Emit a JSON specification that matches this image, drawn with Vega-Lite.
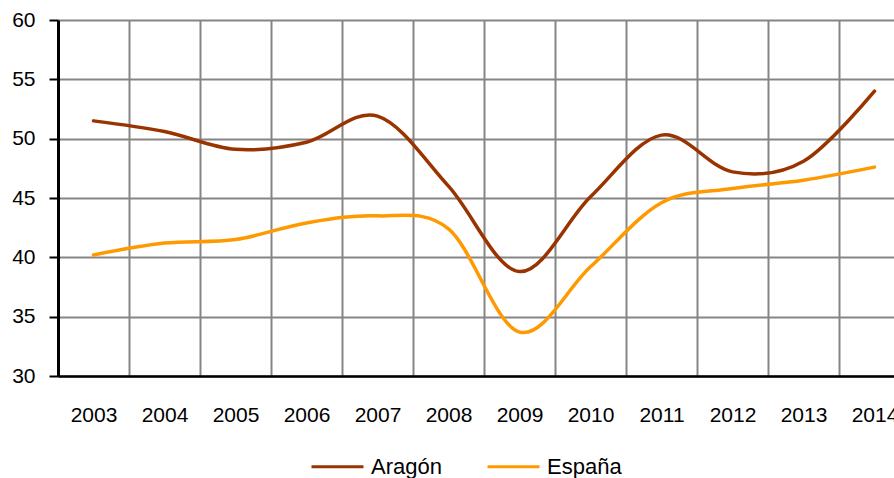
{
  "$schema": "https://vega.github.io/schema/vega-lite/v6.json",
  "autosize": {"type": "none"},
  "padding": {"left": 58, "top": 20, "right": 0, "bottom": 102},
  "width": 836,
  "height": 356,
  "background": "white",
  "config": {
    "view": {"stroke": null},
    "font": "Liberation Sans",
    "axis": {"labelFont": "Liberation Sans", "labelColor": "#000000", "labelFontSize": 21, "titleFontSize": 0}
  },
  "data": {
    "values": [
      {"year": 2003, "series": "Aragón", "value": 51.5},
      {"year": 2004, "series": "Aragón", "value": 50.6},
      {"year": 2005, "series": "Aragón", "value": 49.1},
      {"year": 2006, "series": "Aragón", "value": 49.7},
      {"year": 2007, "series": "Aragón", "value": 51.9},
      {"year": 2008, "series": "Aragón", "value": 46.0},
      {"year": 2009, "series": "Aragón", "value": 38.8},
      {"year": 2010, "series": "Aragón", "value": 45.1},
      {"year": 2011, "series": "Aragón", "value": 50.3},
      {"year": 2012, "series": "Aragón", "value": 47.2},
      {"year": 2013, "series": "Aragón", "value": 48.1},
      {"year": 2014, "series": "Aragón", "value": 54.0},
      {"year": 2003, "series": "España", "value": 40.2},
      {"year": 2004, "series": "España", "value": 41.2},
      {"year": 2005, "series": "España", "value": 41.5},
      {"year": 2006, "series": "España", "value": 42.9},
      {"year": 2007, "series": "España", "value": 43.5},
      {"year": 2008, "series": "España", "value": 42.4},
      {"year": 2009, "series": "España", "value": 33.7},
      {"year": 2010, "series": "España", "value": 39.2},
      {"year": 2011, "series": "España", "value": 44.6},
      {"year": 2012, "series": "España", "value": 45.8},
      {"year": 2013, "series": "España", "value": 46.5},
      {"year": 2014, "series": "España", "value": 47.6}
    ]
  },
  "mark": {"type": "line", "interpolate": "cardinal", "strokeWidth": 3.5, "strokeCap": "round"},
  "encoding": {
    "x": {
      "field": "year",
      "type": "quantitative",
      "scale": {"domain": [2002.5, 2014.5], "range": [0, 852], "nice": false, "zero": false},
      "axis": {
        "title": null,
        "values": [2003.5, 2004.5, 2005.5, 2006.5, 2007.5, 2008.5, 2009.5, 2010.5, 2011.5, 2012.5, 2013.5, 2014.5],
        "labelExpr": "toString(datum.value - 0.5)",
        "labelOffset": -35.5,
        "labelFlush": false,
        "labelOverlap": false,
        "labelBound": false,
        "labelPadding": 28,
        "ticks": false,
        "tickSize": 0,
        "grid": true,
        "gridColor": "#858585",
        "gridWidth": 2,
        "domain": true,
        "domainColor": "#000000",
        "domainWidth": 2.5
      }
    },
    "y": {
      "field": "value",
      "type": "quantitative",
      "scale": {"domain": [30, 60], "nice": false, "zero": false},
      "axis": {
        "title": null,
        "values": [30, 35, 40, 45, 50, 55, 60],
        "grid": true,
        "gridColor": "#858585",
        "gridWidth": 2,
        "domainColor": "#000000",
        "domainWidth": 3,
        "ticks": true,
        "tickColor": "#000000",
        "tickWidth": 2,
        "tickSize": 9,
        "labelPadding": 14
      }
    },
    "color": {
      "field": "series",
      "type": "nominal",
      "scale": {"domain": ["Aragón", "España"], "range": ["#993300", "#FF9900"]},
      "legend": {
        "title": null,
        "orient": "none",
        "direction": "horizontal",
        "legendX": 252,
        "legendY": 419,
        "symbolType": "stroke",
        "symbolSize": 2704,
        "symbolStrokeWidth": 3,
        "labelFont": "Liberation Sans",
        "labelFontSize": 22,
        "labelColor": "#000000",
        "labelOffset": 6,
        "columnPadding": 39
      }
    }
  }
}
